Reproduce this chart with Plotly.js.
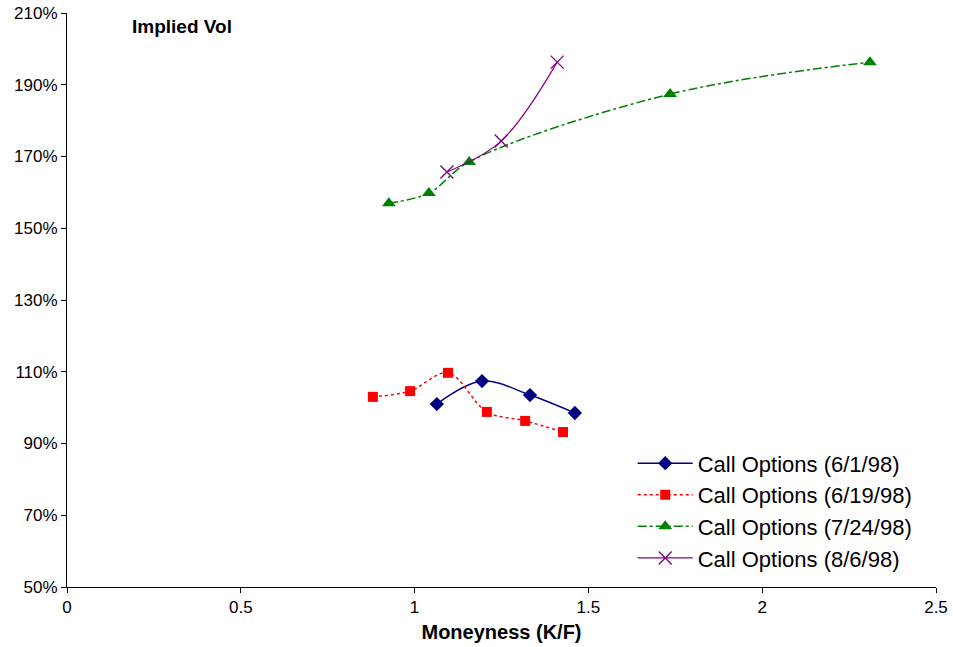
<!DOCTYPE html>
<html>
<head>
<meta charset="utf-8">
<script src="https://cdn.plot.ly/plotly-3.0.1.min.js"></script>
<style>html,body{margin:0;padding:0;background:#fff;}#chart{width:953px;height:647px;}</style>
</head>
<body>
<div id="chart"></div>
<script>
// Moneyness (K/F) and implied vol (%) per series
const seriesNames = ["Call Options (6/1/98)", "Call Options (6/19/98)", "Call Options (7/24/98)", "Call Options (8/6/98)"];
const x_0601 = [1.064, 1.194, 1.332, 1.461];
const y_0601 = [101.0, 107.4, 103.5, 98.5];
const x_0619 = [0.880, 0.987, 1.096, 1.208, 1.318, 1.427];
const y_0619 = [103.0, 104.6, 109.7, 98.8, 96.3, 93.2];
const x_0724 = [0.926, 1.041, 1.157, 1.735, 2.310];
const y_0724 = [157.0, 159.8, 168.5, 187.4, 196.3];
const x_0806 = [1.093, 1.249, 1.410];
const y_0806 = [165.7, 174.3, 196.3];
const yTicks = [50, 70, 90, 110, 130, 150, 170, 190, 210];
const xTicks = [0, 0.5, 1, 1.5, 2, 2.5];

const font = "Arial, 'Liberation Sans', sans-serif";

const traces = [
  {x: x_0601, y: y_0601, name: seriesNames[0], mode: "lines+markers", type: "scatter",
   line: {color: "#000080", width: 1.5, shape: "spline", dash: "solid"},
   marker: {symbol: "diamond", size: 11, color: "#000080"}},
  {x: x_0619, y: y_0619, name: seriesNames[1], mode: "lines+markers", type: "scatter",
   line: {color: "#FF0000", width: 1.5, shape: "spline", dash: "dot"},
   marker: {symbol: "square", size: 10, color: "#FF0000"}},
  {x: x_0724, y: y_0724, name: seriesNames[2], mode: "lines+markers", type: "scatter",
   line: {color: "#008000", width: 1.5, shape: "spline", dash: "dashdot"},
   marker: {symbol: "triangle-up", size: 12, color: "#008000"}},
  {x: x_0806, y: y_0806, name: seriesNames[3], mode: "lines+markers", type: "scatter",
   line: {color: "#800080", width: 1.2, shape: "spline", dash: "solid"},
   marker: {symbol: "x-thin-open", size: 13, color: "#800080", line: {color: "#800080", width: 1.3}}}
];

const layout = {
  width: 953, height: 647,
  margin: {l: 67, r: 17, t: 13, b: 60},
  paper_bgcolor: "#fff", plot_bgcolor: "#fff",
  font: {family: font, color: "#000", size: 16},
  showlegend: true,
  legend: {x: 0.651, y: 0.252, xanchor: "left", yanchor: "top",
           font: {family: font, size: 22, color: "#000"}, bgcolor: "rgba(0,0,0,0)",
           tracegroupgap: 0, itemwidth: 55},
  xaxis: {range: [0, 2.5], tickvals: xTicks, ticktext: xTicks.map(String),
          showgrid: false, zeroline: false, showline: true, linecolor: "#000", linewidth: 1,
          ticks: "outside", ticklen: 5, tickcolor: "#000",
          tickfont: {family: font, size: 17},
          title: {text: "<b>Moneyness (K/F)</b>", font: {family: font, size: 20}, standoff: 8}},
  yaxis: {range: [50, 210], tickvals: yTicks, ticktext: yTicks.map(v => v + "%"),
          showgrid: false, zeroline: false, showline: true, linecolor: "#000", linewidth: 1,
          ticks: "outside", ticklen: 5, tickcolor: "#000",
          tickfont: {family: font, size: 17}},
  annotations: [{text: "<b>Implied Vol</b>", xref: "paper", yref: "paper", x: 0.0725, y: 0.976,
                 xanchor: "left", yanchor: "middle", showarrow: false,
                 font: {family: font, size: 19, color: "#000"}}]
};

Plotly.newPlot("chart", traces, layout, {displayModeBar: false, staticPlot: true});
</script>
</body>
</html>
